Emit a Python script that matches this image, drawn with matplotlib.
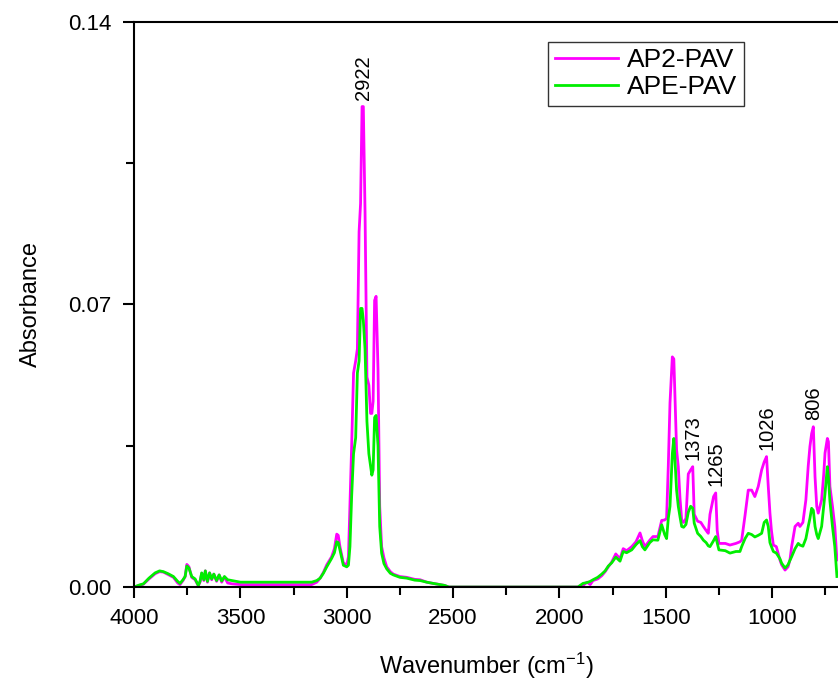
import matplotlib
matplotlib.use('Agg')
import matplotlib.pyplot as plt
from matplotlib.ticker import MultipleLocator

plt.rcParams['font.family'] = ['Liberation Sans', 'DejaVu Sans']

# wavenumber grid (cm-1) and absorbance of the two samples
wavenumber = [
    4000, 3975, 3956, 3930, 3901, 3880, 3862, 3840, 3815, 3795, 3784, 3770,
    3760, 3752, 3742, 3729, 3713, 3698, 3690, 3682, 3672, 3665, 3655, 3645,
    3635, 3625, 3612, 3600, 3588, 3575, 3560, 3540, 3500, 3400, 3300, 3200,
    3165, 3141, 3125, 3110, 3094, 3071, 3058, 3047, 3040, 3032, 3016, 3000,
    2992, 2985, 2977, 2968, 2958, 2950, 2942, 2935, 2928, 2922, 2914, 2905,
    2896, 2888, 2882, 2876, 2869, 2862, 2853, 2845, 2836, 2825, 2812, 2795,
    2781, 2750, 2718, 2680, 2655, 2624, 2594, 2540, 2520, 2200, 1913, 1889,
    1870, 1855, 1842, 1820, 1801, 1785, 1770, 1754, 1735, 1715, 1700, 1684,
    1660, 1640, 1621, 1610, 1598, 1575, 1560, 1537, 1519, 1505, 1496, 1488,
    1480, 1469, 1462, 1455, 1449, 1441, 1433, 1425, 1416, 1405, 1394, 1383,
    1373, 1366, 1350, 1335, 1323, 1310, 1300, 1292, 1275, 1265, 1258, 1250,
    1220, 1198, 1170, 1151, 1143, 1127, 1112, 1096, 1081, 1065, 1049, 1037,
    1026, 1018, 1010, 1003, 994, 980, 963, 955, 939, 925, 916, 908,
    892, 877, 869, 855, 841, 830, 822, 814, 806, 798, 790, 783,
    767, 757, 751, 740, 735, 728, 716, 705, 695,
]
ap2_pav = [
    0.0000, 0.0004, 0.0007, 0.0020, 0.0033, 0.0038, 0.0037, 0.0031, 0.0024, 0.0010, 0.0006, 0.0016,
    0.0026, 0.0056, 0.0050, 0.0024, 0.0018, 0.0003, 0.0012, 0.0034, 0.0016, 0.0040, 0.0012, 0.0035,
    0.0018, 0.0032, 0.0014, 0.0030, 0.0012, 0.0025, 0.0010, 0.0008, 0.0006, 0.0006, 0.0006, 0.0006,
    0.0006, 0.0012, 0.0022, 0.0036, 0.0055, 0.0075, 0.0095, 0.0131, 0.0128, 0.0100, 0.0060, 0.0054,
    0.0075, 0.0200, 0.0348, 0.0530, 0.0560, 0.0590, 0.0880, 0.0950, 0.1190, 0.1190, 0.0930, 0.0520,
    0.0500, 0.0430, 0.0430, 0.0460, 0.0710, 0.0720, 0.0540, 0.0200, 0.0100, 0.0072, 0.0050, 0.0038,
    0.0032, 0.0026, 0.0024, 0.0019, 0.0018, 0.0012, 0.0009, 0.0004, 0.0000, 0.0000, 0.0000, 0.0004,
    0.0012, 0.0006, 0.0016, 0.0020, 0.0028, 0.0038, 0.0050, 0.0062, 0.0082, 0.0070, 0.0095, 0.0090,
    0.0100, 0.0112, 0.0134, 0.0115, 0.0100, 0.0116, 0.0125, 0.0125, 0.0165, 0.0166, 0.0170, 0.0300,
    0.0456, 0.0570, 0.0565, 0.0440, 0.0340, 0.0298, 0.0220, 0.0166, 0.0160, 0.0170, 0.0280, 0.0290,
    0.0298, 0.0180, 0.0163, 0.0160, 0.0150, 0.0140, 0.0133, 0.0180, 0.0224, 0.0233, 0.0140, 0.0108,
    0.0108, 0.0104, 0.0108, 0.0112, 0.0116, 0.0178, 0.0240, 0.0240, 0.0224, 0.0249, 0.0290, 0.0310,
    0.0323, 0.0250, 0.0183, 0.0140, 0.0104, 0.0100, 0.0067, 0.0055, 0.0042, 0.0050, 0.0067, 0.0100,
    0.0150, 0.0158, 0.0150, 0.0160, 0.0216, 0.0300, 0.0348, 0.0380, 0.0397, 0.0273, 0.0200, 0.0183,
    0.0216, 0.0280, 0.0332, 0.0368, 0.0360, 0.0249, 0.0200, 0.0150, 0.0067,
]
ape_pav = [
    0.0000, 0.0005, 0.0008, 0.0022, 0.0035, 0.0040, 0.0038, 0.0033, 0.0026, 0.0014, 0.0009, 0.0018,
    0.0026, 0.0052, 0.0047, 0.0026, 0.0020, 0.0004, 0.0014, 0.0035, 0.0018, 0.0040, 0.0014, 0.0035,
    0.0020, 0.0032, 0.0016, 0.0030, 0.0015, 0.0026, 0.0018, 0.0016, 0.0012, 0.0012, 0.0012, 0.0012,
    0.0012, 0.0016, 0.0022, 0.0034, 0.0050, 0.0071, 0.0085, 0.0112, 0.0110, 0.0092, 0.0054, 0.0050,
    0.0054, 0.0100, 0.0224, 0.0330, 0.0370, 0.0530, 0.0560, 0.0690, 0.0690, 0.0660, 0.0590, 0.0410,
    0.0330, 0.0300, 0.0277, 0.0290, 0.0420, 0.0425, 0.0350, 0.0150, 0.0084, 0.0058, 0.0045, 0.0034,
    0.0030, 0.0024, 0.0022, 0.0017, 0.0016, 0.0012, 0.0009, 0.0004, 0.0000, 0.0000, 0.0000, 0.0009,
    0.0011, 0.0014, 0.0018, 0.0024, 0.0032, 0.0040, 0.0052, 0.0060, 0.0074, 0.0064, 0.0088, 0.0085,
    0.0092, 0.0105, 0.0115, 0.0100, 0.0092, 0.0110, 0.0117, 0.0116, 0.0154, 0.0130, 0.0120, 0.0170,
    0.0200, 0.0330, 0.0368, 0.0300, 0.0240, 0.0200, 0.0174, 0.0150, 0.0148, 0.0155, 0.0185, 0.0200,
    0.0195, 0.0158, 0.0133, 0.0125, 0.0116, 0.0110, 0.0102, 0.0100, 0.0115, 0.0125, 0.0110, 0.0092,
    0.0090, 0.0084, 0.0088, 0.0088, 0.0100, 0.0120, 0.0133, 0.0130, 0.0124, 0.0128, 0.0133, 0.0160,
    0.0166, 0.0150, 0.0110, 0.0100, 0.0088, 0.0084, 0.0070, 0.0059, 0.0047, 0.0055, 0.0066, 0.0075,
    0.0095, 0.0108, 0.0104, 0.0101, 0.0120, 0.0150, 0.0170, 0.0195, 0.0190, 0.0150, 0.0130, 0.0120,
    0.0150, 0.0200, 0.0232, 0.0298, 0.0270, 0.0213, 0.0150, 0.0100, 0.0026,
]

# labelled bands of AP2-PAV
peak_labels = [2922, 1373, 1265, 1026, 806]

fig = plt.figure(figsize=(8.38, 6.81), dpi=100)
ax = fig.add_axes([0.160, 0.138, 0.840, 0.830])

ax.plot(wavenumber, ap2_pav, color='#ff00ff', lw=2, label='AP2-PAV')
ax.plot(wavenumber, ape_pav, color='#00ee00', lw=2, label='APE-PAV')

for wn in peak_labels:
    i = wavenumber.index(wn)
    ax.annotate(str(wn), (wn, ap2_pav[i]), xytext=(0, 5), textcoords='offset points',
                rotation=90, ha='center', va='bottom', fontsize=14.5)

ax.set_xlim(4000, 690)
ax.set_ylim(0, 0.14)
ax.xaxis.set_major_locator(MultipleLocator(500))
ax.xaxis.set_minor_locator(MultipleLocator(250))
ax.set_yticks([0, 0.07, 0.14])
ax.set_yticklabels(['0.00', '0.07', '0.14'])
ax.yaxis.set_minor_locator(MultipleLocator(0.035))

ax.spines['right'].set_visible(False)
for s in ['left', 'bottom', 'top']:
    ax.spines[s].set_linewidth(1.5)
ax.tick_params(which='both', direction='out', width=1.5, labelsize=16)
ax.tick_params(which='major', length=8)
ax.tick_params(which='minor', length=6)
ax.tick_params(axis='y', pad=8)
ax.tick_params(axis='x', pad=7)

ax.set_xlabel('Wavenumber (cm$\\mathregular{^{-1}}$)', fontsize=17, labelpad=16)
ax.set_ylabel('Absorbance', fontsize=17, labelpad=19)

leg = ax.legend(loc='upper left', bbox_to_anchor=(0.588, 0.965), fontsize=19,
                fancybox=False, framealpha=1, edgecolor='#333333',
                handlelength=2.4, handletextpad=0.35, borderpad=0.25,
                labelspacing=0.12, borderaxespad=0)
leg.get_frame().set_linewidth(1.0)

fig.savefig('out.png', dpi=100)
